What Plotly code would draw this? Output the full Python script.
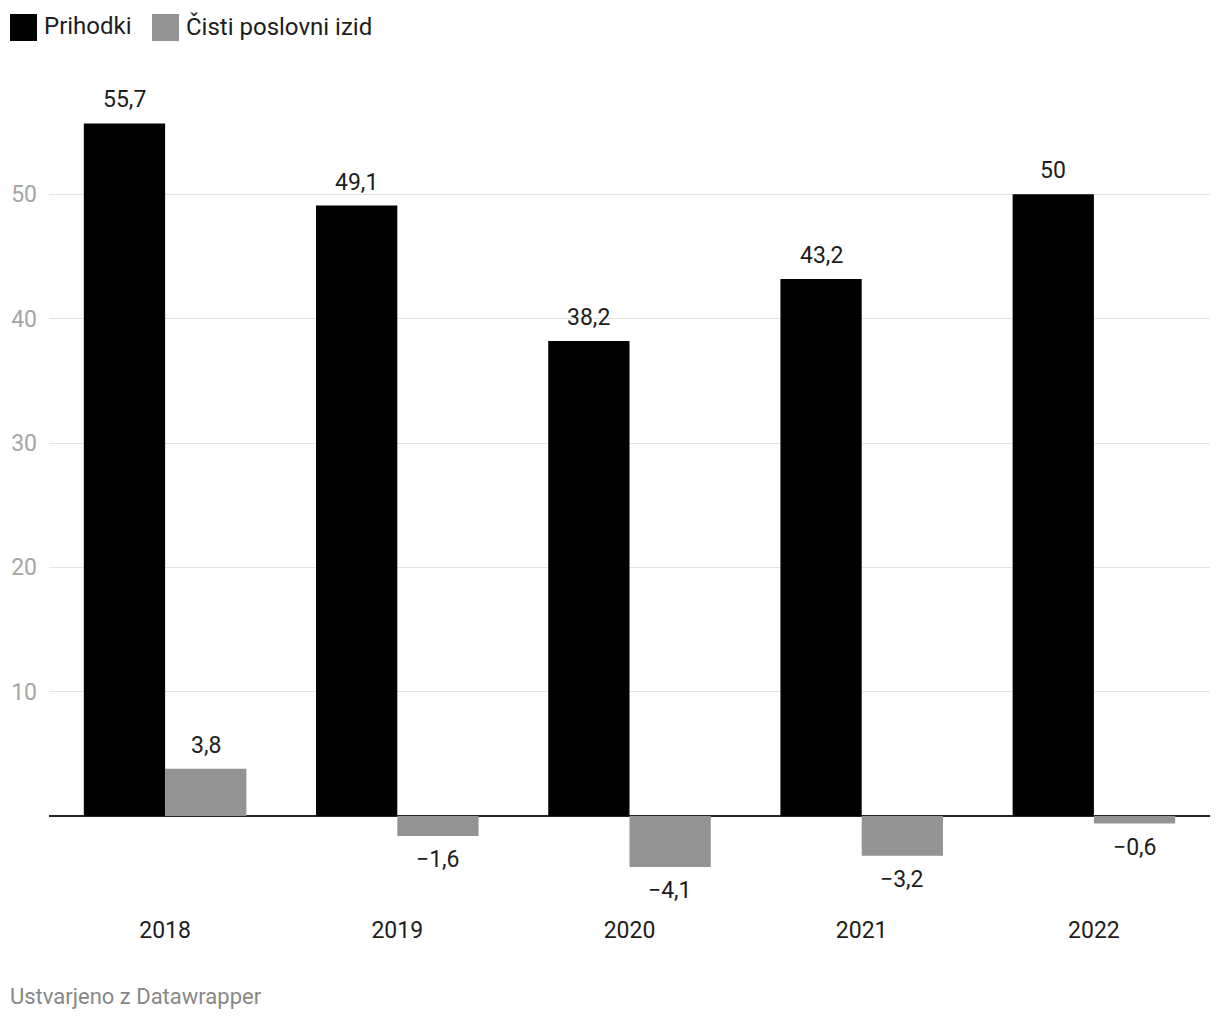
import plotly.graph_objects as go

years = ["2018", "2019", "2020", "2021", "2022"]
prihodki = [55.7, 49.1, 38.2, 43.2, 50.0]
izid = [3.8, -1.6, -4.1, -3.2, -0.6]
series_names = ["Prihodki", "Čisti poslovni izid"]
y_ticks = [10, 20, 30, 40, 50]
footer = "Ustvarjeno z Datawrapper"

BLACK = "#000000"
GREY = "#939393"
TXT = "#1d1d1d"
FONT = "Roboto"

W, H = 1220, 1020
ML, MR, MT, MB = 49, 10, 70, 120
BARGAP = 0.3
plot_w = W - ML - MR
cat_w = plot_w / len(years)
bar_w = cat_w * (1 - BARGAP) / 2


def fmt(v):
    s = f"{v:g}".replace(".", ",")
    return s.replace("-", "\u2212")


fig = go.Figure()
fig.add_trace(go.Bar(x=years, y=prihodki, name=series_names[0],
                     marker=dict(color=BLACK, line=dict(width=0)), showlegend=False))
fig.add_trace(go.Bar(x=years, y=izid, name=series_names[1],
                     marker=dict(color=GREY, line=dict(width=0)), showlegend=False))

annotations = []
for vals, shift in ((prihodki, -bar_w / 2), (izid, bar_w / 2)):
    for i, v in enumerate(vals):
        annotations.append(dict(
            x=i, y=v, xref="x", yref="y", text=fmt(v), showarrow=False,
            xshift=shift, yshift=8 if v >= 0 else -8,
            yanchor="bottom" if v >= 0 else "top",
            font=dict(family=FONT, size=23, color=TXT)))

# legend (manual, to match square swatches)
shapes = []
legend_items = [(series_names[0], BLACK, 10, 42), (series_names[1], GREY, 152, 184)]
for name, col, sx, tx in legend_items:
    shapes.append(dict(type="rect", xref="paper", yref="paper",
                       xsizemode="pixel", ysizemode="pixel", xanchor=0, yanchor=1,
                       x0=sx - ML, x1=sx + 27 - ML, y0=MT - 41, y1=MT - 14,
                       fillcolor=col, line=dict(width=0)))
    annotations.append(dict(x=0, y=1, xref="paper", yref="paper", text=name,
                            showarrow=False, xanchor="left", yanchor="middle",
                            xshift=tx - ML, yshift=MT - 26,
                            font=dict(family=FONT, size=24, color=TXT)))

annotations.append(dict(x=0, y=0, xref="paper", yref="paper", text=footer,
                        showarrow=False, xanchor="left", yanchor="middle",
                        xshift=8 - ML, yshift=-(996 - (H - MB)),
                        font=dict(family=FONT, size=22, color="#888888")))

fig.update_layout(
    width=W, height=H,
    margin=dict(l=ML, r=MR, t=MT, b=MB, pad=0),
    paper_bgcolor="white", plot_bgcolor="white",
    barmode="group", bargap=BARGAP, bargroupgap=0,
    font=dict(family=FONT, color=TXT),
    annotations=annotations, shapes=shapes,
    showlegend=False,
)
fig.update_xaxes(type="category", categoryorder="array", categoryarray=years,
                 range=[-0.5, len(years) - 0.5],
                 showgrid=False, showline=False, ticks="",
                 tickfont=dict(family=FONT, size=23, color=TXT),
                 ticklabelstandoff=14, fixedrange=True)
fig.update_yaxes(range=[-6.75, 60], tickvals=y_ticks, showgrid=True,
                 gridcolor="#e3e3e3", gridwidth=1, zeroline=True,
                 zerolinecolor="#222222", zerolinewidth=2, showline=False,
                 tickfont=dict(family=FONT, size=23, color="#a6a6a6"),
                 ticklabelstandoff=11, fixedrange=True)

fig.write_html("out.html", config={"displayModeBar": False},
               post_script="document.body.style.margin='0';")
